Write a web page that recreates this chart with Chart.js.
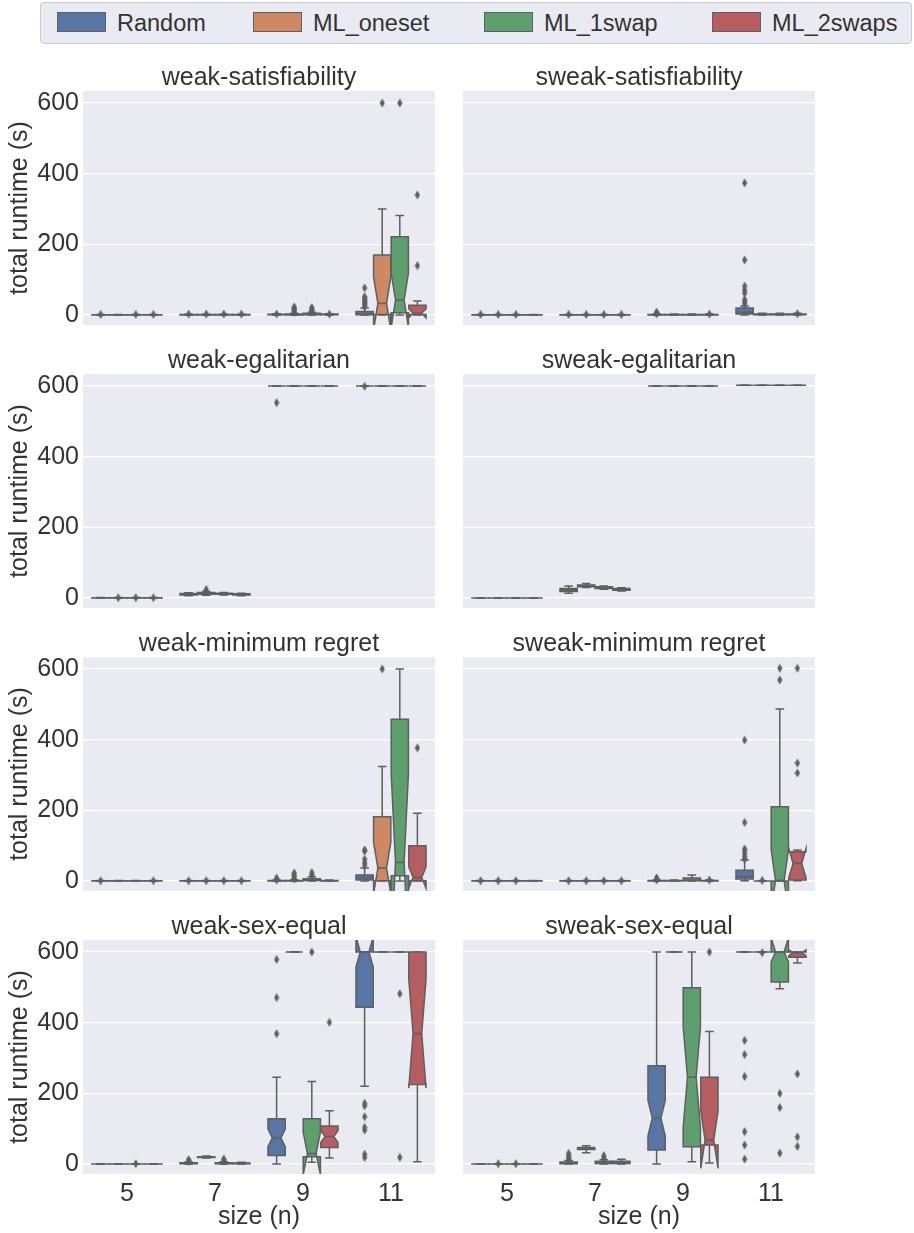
<!DOCTYPE html>
<html>
<head>
<meta charset="utf-8">
<title>total runtime boxplots</title>
<script src="https://cdn.jsdelivr.net/npm/chart.js@4.4.1/dist/chart.umd.min.js"></script>
<style>
  body { margin: 0; width: 914px; height: 1233px; background: #fff; position: relative; overflow: hidden;
         font-family: "Liberation Sans", Arial, sans-serif; color: #333333; }
  #legend { position: absolute; left: 40px; top: 2px; width: 870px; height: 40px; background: #eaeaf2;
            border: 1px solid #cccccc; border-radius: 4px; }
  .patch { position: absolute; top: 9px; width: 49px; height: 20px; box-sizing: border-box; border: 1px solid #5f5f5f; }
  .label { position: absolute; top: 0; height: 40px; line-height: 40px; font-size: 23.5px; white-space: nowrap; }
  canvas { position: absolute; }
</style>
</head>
<body>
<div id="legend"></div>
<script>
// ---- data ----
var sizes = ['5', '7', '9', '11'];
var hues = ['Random', 'ML_oneset', 'ML_1swap', 'ML_2swaps'];
var colors = ['#5975a4', '#cc8963', '#5f9e6e', '#b55d60'];
var yTicks = [0, 200, 400, 600];
var titles = ['weak-satisfiability', 'sweak-satisfiability', 'weak-egalitarian', 'sweak-egalitarian',
              'weak-minimum regret', 'sweak-minimum regret', 'weak-sex-equal', 'sweak-sex-equal'];

// box = [whisker low, q1, median, q3, whisker high, notch low, notch high]
// one row per hue, one entry per size
var weakSatBoxes = [
  [[0, 0.3, 0.5, 0.8, 1.5], [0, 0.5, 1, 1.5, 2.5], [0, 1, 1.5, 2.5, 4], [0, 1, 3, 10, 20]],
  [[0, 0.3, 0.5, 0.8, 1.5], [0, 0.5, 1, 1.5, 2.5], [0, 0.5, 1.5, 3, 5], [0, 2, 33, 170, 300, -42, 108]],
  [[0, 0.3, 0.5, 0.8, 1.5], [0, 0.5, 1, 1.5, 2.5], [0, 1, 3, 5, 8], [0, 7, 42, 222, 282, -35, 119]],
  [[0, 0.3, 0.5, 0.8, 1.5], [0, 0.5, 1, 1.5, 2.5], [0, 1, 2, 3, 4], [0, 2, 5, 28, 40, -8, 18]]
];
var weakSatFliers = [
  [[2], [3], [3], [24, 28, 32, 36, 40, 44, 48, 52, 77]],
  [[], [3], [8, 11, 14, 17, 20, 23], [600]],
  [[2], [3], [9, 12, 15, 18, 21], [600]],
  [[2], [3], [3], [140, 340]]
];

var sweakSatBoxes = [
  [[0, 0.3, 0.5, 0.8, 1.5], [0, 0.3, 0.5, 0.8, 1.5], [0, 0.5, 1, 2, 3], [0, 3, 8, 20, 26]],
  [[0, 0.3, 0.5, 0.8, 1.5], [0, 0.3, 0.5, 0.8, 1.5], [0, 0.5, 1, 2, 3], [0, 1, 2, 3, 5]],
  [[0, 0.3, 0.5, 0.8, 1.5], [0, 0.3, 0.5, 0.8, 1.5], [0, 0.5, 1, 2, 3], [0, 1, 2, 3, 5]],
  [[0, 0.3, 0.5, 0.8, 1.5], [0, 0.3, 0.5, 0.8, 1.5], [0, 0.5, 1, 2, 3], [0, 1, 2, 3, 5]]
];
var sweakSatFliers = [
  [[2], [2], [4, 6, 8], [32, 38, 44, 62, 71, 82, 156, 374]],
  [[2], [2], [], []],
  [[2], [2], [], []],
  [[], [2], [3], [4]]
];

var weakEgalBoxes = [
  [[0, 0.3, 0.5, 0.8, 1.5], [7, 9, 11, 13, 15], [600, 600, 600, 600, 600], [600, 600, 600, 600, 600]],
  [[0, 0.3, 0.5, 0.8, 1.5], [8, 11, 13, 16, 19], [600, 600, 600, 600, 600], [600, 600, 600, 600, 600]],
  [[0, 0.3, 0.5, 0.8, 1.5], [9, 11, 12, 14, 16], [600, 600, 600, 600, 600], [600, 600, 600, 600, 600]],
  [[0, 0.3, 0.5, 0.8, 1.5], [7, 9, 11, 12, 14], [600, 600, 600, 600, 600], [600, 600, 600, 600, 600]]
];
var weakEgalFliers = [
  [[], [], [553], [599]],
  [[1], [21, 24], [], []],
  [[1], [], [], []],
  [[1], [], [], []]
];

var sweakEgalBoxes = [
  [[0, 0, 0, 0.3, 0.6], [14, 19, 23, 27, 34], [600, 600, 600, 600, 600], [602, 602, 602, 602, 602]],
  [[0, 0, 0, 0.3, 0.6], [30, 32, 35, 37, 41], [600, 600, 600, 600, 600], [602, 602, 602, 602, 602]],
  [[0, 0, 0, 0.3, 0.6], [25, 27, 30, 32, 34], [600, 600, 600, 600, 600], [602, 602, 602, 602, 602]],
  [[0, 0, 0, 0.3, 0.6], [20, 22, 24, 27, 29], [600, 600, 600, 600, 600], [602, 602, 602, 602, 602]]
];
var sweakEgalFliers = [
  [[], [], [], []],
  [[], [], [], []],
  [[], [], [], []],
  [[], [], [], []]
];

var weakRegretBoxes = [
  [[0, 0.3, 0.5, 0.8, 1.5], [0, 0.3, 0.5, 0.8, 1.5], [0, 0.5, 1, 2, 3], [0, 3, 10, 17, 37]],
  [[0, 0.3, 0.5, 0.8, 1.5], [0, 0.3, 0.5, 0.8, 1.5], [0, 0.5, 1, 2, 4], [0, 1, 37, 182, 324, -36, 110]],
  [[0, 0.3, 0.5, 0.8, 1.5], [0, 0.3, 0.5, 0.8, 1.5], [0, 2, 4, 7, 12], [0, 15, 53, 458, 600, -198, 304]],
  [[0, 0.3, 0.5, 0.8, 1.5], [0, 0.3, 0.5, 0.8, 1.5], [0, 0.5, 1, 2, 3], [0, 1, 10, 100, 192, -20, 40]]
];
var weakRegretFliers = [
  [[1], [1], [3, 6, 8], [44, 52, 62, 85, 88]],
  [[], [1], [6, 10, 14, 18, 23], [600]],
  [[], [1], [15, 19, 24], []],
  [[1], [1], [], [377]]
];

var sweakRegretBoxes = [
  [[0, 0.3, 0.5, 0.8, 1.5], [0, 0.3, 0.5, 0.8, 1.5], [0, 0.5, 1, 2, 3], [1, 6, 13, 31, 60]],
  [[0, 0.3, 0.5, 0.8, 1.5], [0, 0.3, 0.5, 0.8, 1.5], [0, 0.5, 1, 2, 3], [0, 0, 0, 0, 0]],
  [[0, 0.3, 0.5, 0.8, 1.5], [0, 0.3, 0.5, 0.8, 1.5], [0, 1, 3, 9, 17], [0, 0, 2, 210, 487, -84, 88]],
  [[0, 0.3, 0.5, 0.8, 1.5], [0, 0.3, 0.5, 0.8, 1.5], [0, 0.5, 1, 2, 3], [1, 3, 50, 83, 88, 10, 92]]
];
var sweakRegretFliers = [
  [[1], [1], [3, 6, 9], [62, 68, 76, 86, 91, 166, 399]],
  [[1], [1], [], [2]],
  [[1], [1], [], [569, 602]],
  [[], [1], [3], [306, 334, 602]]
];

var weakSexBoxes = [
  [[0, 0, 0, 0.3, 0.6], [0, 1, 2, 4, 6], [0, 24, 74, 128, 246, 49, 99], [220, 444, 600, 600, 600, 557, 643]],
  [[0, 0, 0, 0.3, 0.6], [17, 19, 20, 21, 23], [600, 600, 600, 600, 600], [600, 600, 600, 600, 600]],
  [[0, 0, 0, 0.3, 0.6], [0, 1, 2, 4, 7], [5, 21, 30, 128, 234, -30, 90], [600, 600, 600, 600, 600]],
  [[0, 0, 0, 0.3, 0.6], [0, 1, 2, 3, 5], [17, 47, 78, 108, 151, 61, 95], [7, 225, 369, 600, 600, 215, 523]]
];
var weakSexFliers = [
  [[], [8, 10, 12], [369, 471, 579], [19, 28, 96, 104, 134, 165, 172]],
  [[], [], [], []],
  [[1], [9, 12, 14], [600], [19, 482]],
  [[], [], [401], []]
];

var sweakSexBoxes = [
  [[0, 0, 0, 0.3, 0.6], [0, 1, 3, 6, 10], [0, 40, 130, 278, 600, 80, 180], [600, 600, 600, 600, 600]],
  [[0, 0, 0, 0.3, 0.6], [32, 41, 44, 47, 52], [600, 600, 600, 600, 600], [600, 600, 600, 600, 600]],
  [[0, 0, 0, 0.3, 0.6], [0, 2, 5, 8, 12], [7, 49, 246, 499, 600, 105, 387], [496, 515, 600, 600, 600, 572, 640]],
  [[0, 0, 0, 0.3, 0.6], [0, 2, 5, 8, 14], [3, 54, 68, 246, 375, -12, 150], [569, 585, 598, 600, 600, 590, 606]]
];
var sweakSexFliers = [
  [[], [12, 16, 20, 25, 30], [], [14, 54, 92, 248, 310, 350]],
  [[1], [], [], [598]],
  [[1], [15, 19, 24], [], [31, 160, 200]],
  [[], [], [600], [50, 77, 255]]
];

var panelBoxes = [weakSatBoxes, sweakSatBoxes, weakEgalBoxes, sweakEgalBoxes,
                  weakRegretBoxes, sweakRegretBoxes, weakSexBoxes, sweakSexBoxes];
var panelFliers = [weakSatFliers, sweakSatFliers, weakEgalFliers, sweakEgalFliers,
                   weakRegretFliers, sweakRegretFliers, weakSexFliers, sweakSexFliers];

// ---- style ----
var hueOffsets = [-0.3, -0.1, 0.1, 0.3];
var boxWidth = 0.196;
var lineGray = '#5f5f5f';
var textColor = '#333333';
var fontFamily = '"Liberation Sans", Arial, sans-serif';

// legend (html, real text)
var legendX = [16, 212, 443, 671];
var legend = document.getElementById('legend');
hues.forEach(function(h, i) {
  var p = document.createElement('div');
  p.className = 'patch';
  p.style.left = legendX[i] + 'px';
  p.style.background = colors[i];
  legend.appendChild(p);
  var t = document.createElement('div');
  t.className = 'label';
  t.style.left = (legendX[i] + 60) + 'px';
  t.textContent = h;
  legend.appendChild(t);
});

// thin diamond marker for outliers
var diamond = document.createElement('canvas');
diamond.width = 6; diamond.height = 10;
var dctx = diamond.getContext('2d');
dctx.fillStyle = lineGray;
dctx.beginPath();
dctx.moveTo(3, 0.5); dctx.lineTo(5.6, 5); dctx.lineTo(3, 9.5); dctx.lineTo(0.4, 5);
dctx.closePath();
dctx.fill();

// panel background
var panelBg = {
  id: 'panelBg',
  beforeDraw: function(chart) {
    var a = chart.chartArea, ctx = chart.ctx;
    ctx.save();
    ctx.fillStyle = '#eaeaf2';
    ctx.fillRect(a.left, a.top, a.width, a.height);
    ctx.restore();
  }
};

// notched boxes drawn through the chart's scales
var notchBoxes = {
  id: 'notchBoxes',
  beforeDatasetsDraw: function(chart, args, opts) {
    var ctx = chart.ctx, a = chart.chartArea, x = chart.scales.x, y = chart.scales.y;
    var Y = function(v) { return y.getPixelForValue(v); };
    ctx.save();
    ctx.beginPath();
    ctx.rect(a.left, a.top, a.width, a.height);
    ctx.clip();
    ctx.lineWidth = 1.5;
    ctx.strokeStyle = lineGray;
    opts.boxes.forEach(function(hueBoxes, h) {
      hueBoxes.forEach(function(b, c) {
        if (!b) return;
        var lo = b[0], q1 = b[1], med = b[2], q3 = b[3], hi = b[4];
        var nlo = b.length > 5 ? b[5] : med, nhi = b.length > 6 ? b[6] : med;
        var pos = c + hueOffsets[h];
        var L = x.getPixelForValue(pos - boxWidth / 2), R = x.getPixelForValue(pos + boxWidth / 2);
        var cL = x.getPixelForValue(pos - boxWidth / 4), cR = x.getPixelForValue(pos + boxWidth / 4);
        var X = x.getPixelForValue(pos);
        // whiskers and caps
        ctx.beginPath();
        ctx.moveTo(X, Y(q1)); ctx.lineTo(X, Y(lo));
        ctx.moveTo(X, Y(q3)); ctx.lineTo(X, Y(hi));
        ctx.moveTo(cL, Y(lo)); ctx.lineTo(cR, Y(lo));
        ctx.moveTo(cL, Y(hi)); ctx.lineTo(cR, Y(hi));
        ctx.stroke();
        // notched box
        ctx.beginPath();
        ctx.moveTo(L, Y(q1)); ctx.lineTo(R, Y(q1)); ctx.lineTo(R, Y(nlo)); ctx.lineTo(cR, Y(med));
        ctx.lineTo(R, Y(nhi)); ctx.lineTo(R, Y(q3)); ctx.lineTo(L, Y(q3)); ctx.lineTo(L, Y(nhi));
        ctx.lineTo(cL, Y(med)); ctx.lineTo(L, Y(nlo)); ctx.closePath();
        ctx.fillStyle = colors[h];
        ctx.fill();
        ctx.stroke();
        // median
        ctx.beginPath();
        ctx.moveTo(cL, Y(med)); ctx.lineTo(cR, Y(med));
        ctx.stroke();
      });
    });
    ctx.restore();
  }
};

function makePanel(i) {
  var row = Math.floor(i / 2), col = i % 2;
  var last = row === 3;
  var canvas = document.createElement('canvas');
  canvas.width = col === 0 ? 440 : 357;
  canvas.height = last ? 324 : 265;
  canvas.style.left = (col === 0 ? 0 : 463) + 'px';
  canvas.style.top = (60 + 283 * row) + 'px';
  document.body.appendChild(canvas);

  var font = { family: fontFamily, size: 25, weight: 'normal' };
  var datasets = hues.map(function(hue, h) {
    var pts = [];
    panelFliers[i][h].forEach(function(vals, c) {
      vals.forEach(function(v) { pts.push({ x: c + hueOffsets[h], y: v }); });
    });
    return { label: hue, data: pts, pointStyle: diamond, pointRadius: 4, backgroundColor: lineGray, borderColor: lineGray };
  });

  new Chart(canvas, {
    type: 'scatter',
    data: { datasets: datasets },
    plugins: [panelBg, notchBoxes],
    options: {
      responsive: false,
      animation: false,
      events: [],
      layout: { autoPadding: false, padding: { left: 0, right: 5, top: 0, bottom: 0 } },
      plugins: {
        legend: { display: false },
        tooltip: { enabled: false },
        title: {
          display: true, text: titles[i], fullSize: false, color: textColor,
          font: { family: fontFamily, size: 25, weight: 'normal', lineHeight: 1 },
          padding: { top: 6, bottom: 0 }
        },
        notchBoxes: { boxes: panelBoxes[i] }
      },
      scales: {
        x: {
          type: 'linear', min: -0.5, max: 3.5,
          grid: { display: false, drawTicks: false },
          border: { display: false },
          afterBuildTicks: function(s) { s.ticks = sizes.map(function(_, k) { return { value: k }; }); },
          ticks: { display: last, padding: 5, color: textColor, font: font,
                   callback: function(v) { return sizes[v]; } },
          title: { display: last, text: 'size (n)', color: textColor, font: font, padding: { top: 0, bottom: 1 } },
          afterFit: function(s) { s.height = last ? 59 : 0; s.paddingLeft = 0; s.paddingRight = 0; }
        },
        y: {
          type: 'linear', min: -28, max: 634,
          grid: { color: '#ffffff', lineWidth: 1.25, drawTicks: false },
          border: { display: false },
          afterBuildTicks: function(s) { s.ticks = yTicks.map(function(v) { return { value: v }; }); },
          ticks: { display: col === 0, padding: 4, color: textColor, font: font },
          title: { display: col === 0, text: 'total runtime (s)', color: textColor, font: font, padding: { top: 5, bottom: 0 } },
          afterFit: function(s) { s.width = col === 0 ? 83 : 0; s.paddingTop = 0; s.paddingBottom = 0; }
        }
      }
    }
  });
}

for (var i = 0; i < 8; i++) makePanel(i);
</script>
</body>
</html>
